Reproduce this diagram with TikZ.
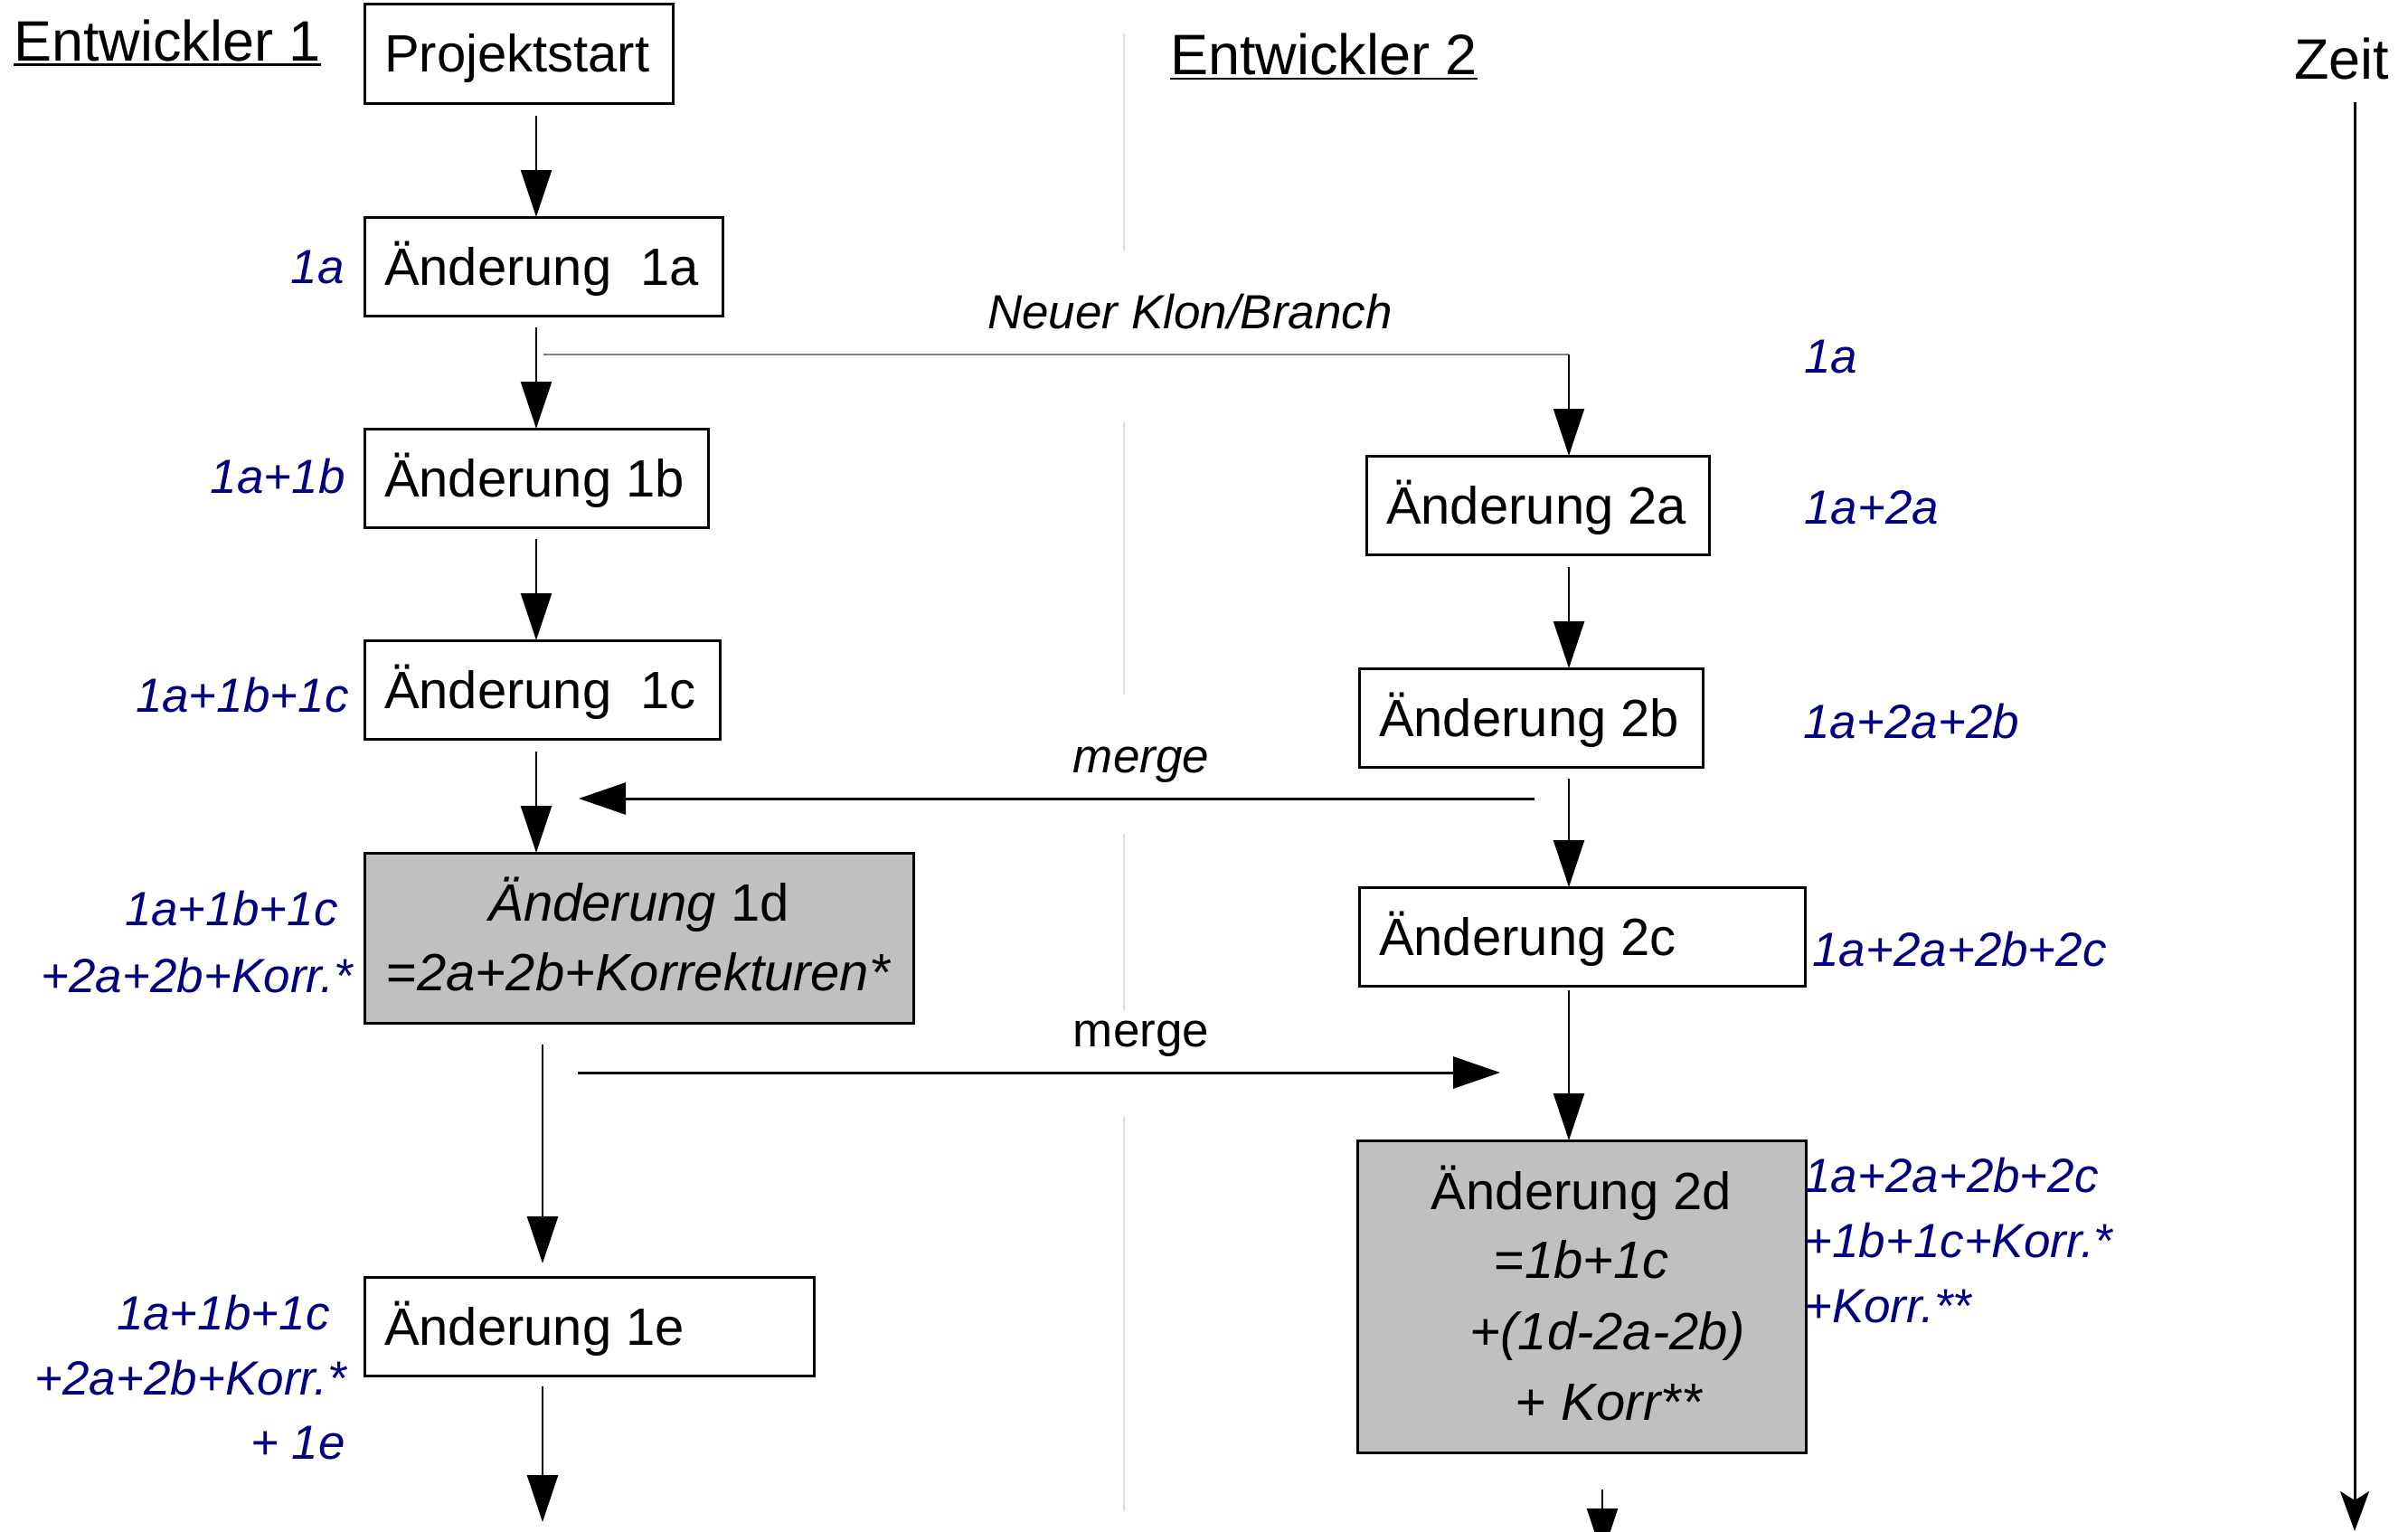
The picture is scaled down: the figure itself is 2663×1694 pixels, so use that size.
\documentclass[tikz,border=0pt]{standalone}
\usepackage{fontspec}
\setmainfont{Liberation Sans}
\usetikzlibrary{arrows.meta,calc}

\definecolor{lbl}{HTML}{000080}
\definecolor{boxgrey}{HTML}{C0C0C0}
\definecolor{divider}{HTML}{DCDCDC}
\definecolor{branchgrey}{HTML}{808080}

\newcommand\bxfont{\fontsize{58pt}{70pt}\selectfont}
\newcommand\lbfont{\fontsize{53pt}{64pt}\selectfont\itshape}
\newcommand\hdfont{\fontsize{63pt}{75pt}\selectfont}
% left-aligned box content of a given width
\newcommand\boxtext[2]{\makebox[#1][l]{#2}}

\begin{document}
\begin{tikzpicture}[x=1pt,y=-1pt,
  change/.style={draw, line width=3pt, outer sep=0pt, anchor=north west,
    inner xsep=22pt, inner ysep=0pt, text height=45pt, text depth=4pt,
    minimum height=109pt, font=\bxfont},
  merged/.style={change, fill=boxgrey},
  flow/.style={line width=2.5pt, -{Triangle[length=52pt,width=34pt]}},
  mergeline/.style={line width=3pt, -{Triangle[length=52pt,width=35pt]}},
  timeaxis/.style={line width=3pt, -{Stealth[length=44pt,width=32pt,inset=10pt]}},
  branchline/.style={line width=2pt, branchgrey},
  lane/.style={line width=2pt, divider},
  state/.style={text=lbl, font=\lbfont, inner sep=0pt},
  plain/.style={inner sep=0pt},
]
\useasboundingbox (0,0) rectangle (2663,1694);
\fill[white] (0,0) rectangle (2663,1694);

% lane separator between the two developers
\draw[lane] (1243,37) -- (1243,277);
\draw[lane] (1243,467) -- (1243,768);
\draw[lane] (1243,922) -- (1243,1117);
\draw[lane] (1243,1235) -- (1243,1671);

% column headings
\node[plain, anchor=base west, font=\hdfont] (h1) at (15,67) {Entwickler 1};
\draw[line width=2.7pt] ($(h1.base west)+(0,4.5)$) -- ($(h1.base east)+(0,4.5)$);
\node[plain, anchor=base west, font=\hdfont] (h2) at (1294,82) {Entwickler 2};
\draw[line width=2.7pt] ($(h2.base west)+(0,5)$) -- ($(h2.base east)+(0,5)$);
\node[plain, anchor=base west, font=\hdfont] (zeit) at (2537,88) {Zeit};

% developer 1
\node[change] (p) at (403,5) {\boxtext{297pt}{Projektstart}};
\node[change] (a) at (403,240) {\boxtext{352pt}{Änderung\ \ 1a}};
\node[change] (b) at (403,474) {\boxtext{336pt}{Änderung 1b}};
\node[change] (c) at (403,708) {\boxtext{349pt}{Änderung\ \ 1c}};
\node[merged, minimum height=188pt] (d) at (403,943) {\boxtext{563pt}{}};
\node[plain, anchor=base, font=\bxfont] (dl1) at ($(d.north)+(0,75)$) {\textit{Änderung} 1d};
\node[plain, anchor=base, font=\bxfont] (dl2) at ($(d.north)+(0,152)$) {=\textit{2a+2b+Korrekturen*}};
\node[change] (e) at (403,1412) {\boxtext{453pt}{Änderung 1e}};

% developer 2
\node[change] (a2) at (1511,504) {\boxtext{335pt}{Änderung 2a}};
\node[change] (b2) at (1503,739) {\boxtext{336pt}{Änderung 2b}};
\node[change] (c2) at (1503,981) {\boxtext{449pt}{Änderung 2c}};
\node[merged, minimum height=345pt] (d2) at (1501,1261) {\boxtext{452pt}{}};
\node[plain, anchor=base, font=\bxfont] (ql1) at ($(d2.north)+(0,76)$) {Änderung 2d};
\node[plain, anchor=base, font=\bxfont] (ql2) at ($(d2.north)+(0,152)$) {=\textit{1b+1c}};
\node[plain, anchor=base, font=\bxfont] (ql3) at ($(d2.north)+(29,231)$) {\textit{+(1d-2a-2b)}};
\node[plain, anchor=base, font=\bxfont] (ql4) at ($(d2.north)+(31,309)$) {+ \textit{Korr**}};

% trunk lines
\coordinate (t1) at (593,0);
\coordinate (t1b) at (600,0);
\coordinate (t2) at (1735,0);
\coordinate (t2b) at (1772,0);

\draw[flow] ($(p.south -| t1)+(0,14)$) -- (a.north -| t1);
\draw[flow] ($(a.south -| t1)+(0,13)$) -- (b.north -| t1);
\draw[flow] ($(b.south -| t1)+(0,13)$) -- (c.north -| t1);
\draw[flow] ($(c.south -| t1)+(0,14)$) -- (d.north -| t1);
\draw[flow] ($(d.south -| t1b)+(0,24)$) -- ($(e.north -| t1b)+(0,-15)$);
\coordinate (e1end) at (600,1683);
\draw[flow] ($(e.south -| t1b)+(0,12)$) -- (e1end);

% new clone / branch
\coordinate (bstart) at ($(a.south -| t1)+(8,43)$);
\draw[branchline] (bstart) -- (bstart -| t2);
\draw[flow, line width=2pt] (bstart -| t2) -- (a2.north -| t2);
\node[plain, anchor=base, font=\lbfont, text=black] (klon) at (1316,363) {Neuer Klon/Branch};

\draw[flow] ($(a2.south -| t2)+(0,14)$) -- (b2.north -| t2);
\draw[flow] ($(b2.south -| t2)+(0,13)$) -- (c2.north -| t2);
\draw[flow] ($(c2.south -| t2)+(0,5)$) -- (d2.north -| t2);
\coordinate (d2end) at (1772,1720);
\draw[flow] ($(d2.south -| t2b)+(0,41)$) -- (d2end);

% merges
\draw[mergeline] ($(b2.south -| t2)+(-38,35)$) -- ($(d.north -| t1)+(47,-60)$);
\node[plain, anchor=base, font=\lbfont, text=black] (m1) at (1262,854) {merge};
\draw[mergeline] ($(d.south -| t1)+(46,55)$) -- ($(d2.north -| t2)+(-76,-75)$);
\node[plain, anchor=base, font=\fontsize{53pt}{64pt}\selectfont] (m2) at (1262,1157) {merge};

% time axis
\coordinate (zeitend) at (2604,1693);
\draw[timeaxis] ($(zeit.base -| zeitend)+(0,25)$) -- (zeitend);

% contents of each working copy, developer 1
\node[state, anchor=base east] (s1a) at (381,313) {1a};
\node[state, anchor=base east] (s1b) at (382,545) {1a+1b};
\node[state, anchor=base east] (s1c) at (386,787) {1a+1b+1c};
\node[state, anchor=base east] (s1d1) at (374,1023) {1a+1b+1c};
\node[state, anchor=base east] (s1d2) at (390,1097) {+2a+2b+Korr.*};
\node[state, anchor=base east] (s1e1) at (365,1470) {1a+1b+1c};
\node[state, anchor=base east] (s1e2) at (383,1542) {+2a+2b+Korr.*};
\node[state, anchor=base east] (s1e3) at (382,1613) {+ 1e};

% contents of each working copy, developer 2
\node[state, anchor=base west] (s2o) at (1995,412) {1a};
\node[state, anchor=base west] (s2a) at (1995,579) {1a+2a};
\node[state, anchor=base west] (s2b) at (1994,816) {1a+2a+2b};
\node[state, anchor=base west] (s2c) at (2004,1068) {1a+2a+2b+2c};
\node[state, anchor=base west] (s2d1) at (1995,1318) {1a+2a+2b+2c};
\node[state, anchor=base west] (s2d2) at (1995,1390) {+1b+1c+Korr.*};
\node[state, anchor=base west] (s2d3) at (1995,1462) {+Korr.**};
\end{tikzpicture}
\end{document}
